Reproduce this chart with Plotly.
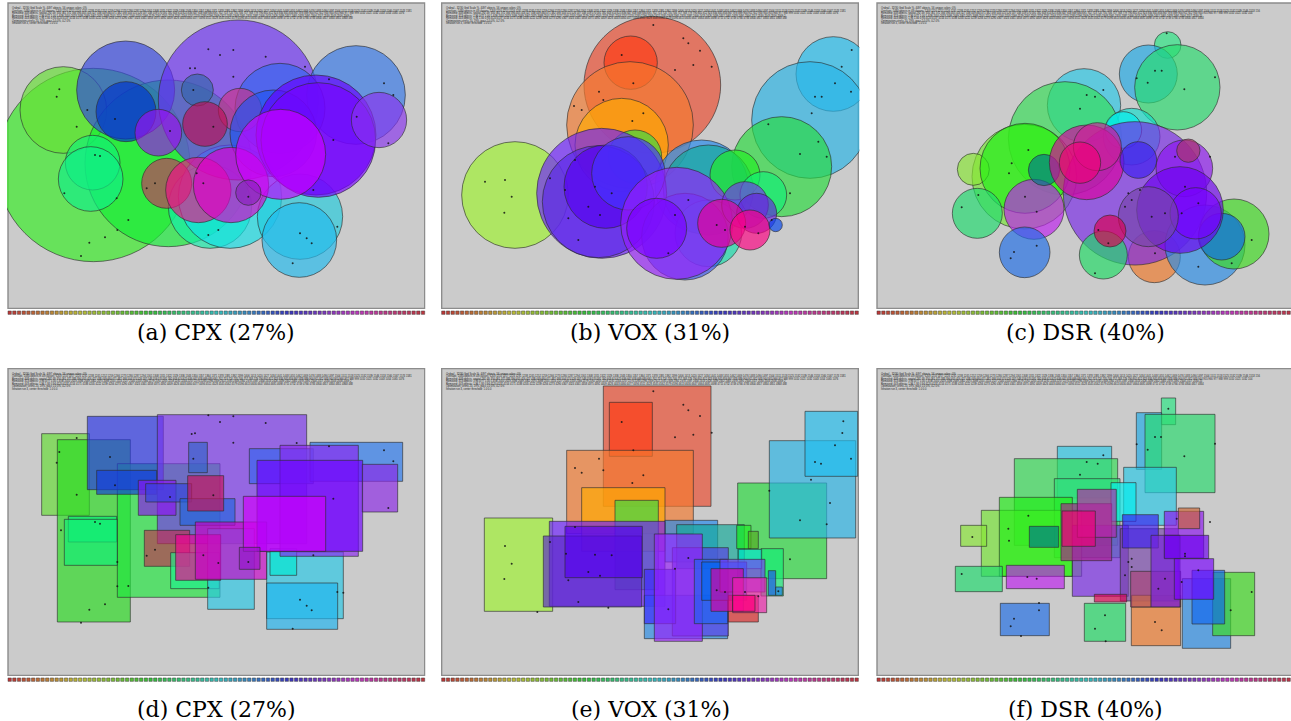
import plotly.graph_objects as go
import colorsys

W, H = 1291, 721

# ---------------- data (reference-image units: 3 units = 1 px) ----------------
captions = ["(a) CPX (27%)", "(b) VOX (31%)", "(c) DSR (40%)",
            "(d) CPX (27%)", "(e) VOX (31%)", "(f) DSR (40%)"]

# circles: (cx, cy, r, color)
cpx_circles = [
    (280, 495, 290, '#33ee22'), (190, 330, 130, '#66e033'), (505, 490, 250, '#11ee33'),
    (630, 620, 125, '#11eeaa'), (690, 590, 155, '#11e0e8'), (377, 270, 147, '#3344e0'),
    (715, 300, 240, '#6a2df5'), (1068, 285, 148, '#3377e8'), (840, 325, 135, '#3366ee'),
    (900, 650, 128, '#22ccdd'), (898, 720, 112, '#22bbee'), (278, 488, 82, '#11f077'),
    (272, 537, 97, '#11ee88'), (378, 335, 90, '#0033cc'), (592, 270, 48, '#3366aa'),
    (720, 330, 65, '#cc3388'), (820, 400, 130, '#2255ee'), (475, 398, 70, '#9911ee'),
    (615, 372, 67, '#bb1155'), (500, 550, 75, '#c83060'), (948, 405, 180, '#6600ff'),
    (955, 420, 172, '#7700ff'), (1137, 360, 83, '#8833ee'), (595, 570, 98, '#ee1188'),
    (693, 555, 113, '#dd00cc'), (842, 463, 135, '#cc00ff'), (745, 578, 38, '#8822bb'),
]
vox_circles = [
    (652, 255, 205, '#ed4a2d'), (587, 188, 80, '#ff3a10'), (585, 375, 190, '#f57a2d'),
    (560, 435, 140, '#ffaa00'), (240, 585, 160, '#a0f52d'), (600, 470, 80, '#33dd44'),
    (1195, 222, 112, '#1ebef0'), (1125, 360, 175, '#28b4e6'), (1040, 500, 150, '#28dc3c'),
    (800, 560, 140, '#2288ee'), (820, 570, 135, '#11aa99'), (900, 525, 75, '#22ee22'),
    (985, 585, 70, '#11ee77'), (820, 700, 100, '#11ddaa'), (500, 580, 195, '#6e1eff'),
    (490, 605, 168, '#5a28e6'), (512, 560, 125, '#5500ee'), (580, 520, 110, '#4433ff'),
    (750, 710, 130, '#3a55ee'), (725, 670, 168, '#961efa'), (665, 685, 90, '#7a00ff'),
    (930, 615, 70, '#7733ee'), (965, 640, 60, '#6622dd'), (860, 670, 72, '#e60096'),
    (945, 690, 60, '#ff0082'), (1022, 675, 20, '#0044ee'),
]
dsr_circles = [
    (908, 135, 40, '#28e682'), (850, 222, 87, '#1eaae6'), (937, 262, 128, '#28dc6e'),
    (657, 316, 110, '#28c8e6'), (600, 415, 170, '#33dd55'), (478, 530, 157, '#77e633'),
    (325, 508, 48, '#88e633'), (480, 505, 135, '#1ef014'), (337, 640, 75, '#1edc6e'),
    (800, 410, 85, '#11ddcc'), (775, 390, 55, '#00eeee'), (868, 770, 78, '#f07828'),
    (810, 580, 215, '#7828e6'), (507, 628, 90, '#be1ef0'), (537, 510, 47, '#007888'),
    (479, 757, 76, '#1e6ee6'), (715, 765, 72, '#1edc64'), (665, 487, 112, '#dc00a0'),
    (697, 440, 72, '#cc2299'), (645, 488, 62, '#ee0077'), (820, 480, 55, '#3c1ef0'),
    (1020, 735, 120, '#288ce6'), (1107, 702, 105, '#3cdc1e'), (1070, 710, 70, '#1166ee'),
    (958, 505, 85, '#8c14f0'), (970, 452, 35, '#aa3366'), (945, 630, 130, '#6e00f0'),
    (992, 640, 77, '#7800ff'), (850, 650, 90, '#7744aa'), (735, 693, 48, '#dc0050'),
]

# rectangles: (x0, y0, x1, y1, color)
cpx_rects = [
    (125, 215, 268, 460, '#66dd33'), (172, 233, 391, 780, '#28dc1e'), (352, 305, 660, 706, '#1ee63c'),
    (262, 163, 490, 383, '#2832e6'), (472, 158, 920, 545, '#7a33ee'), (290, 325, 470, 397, '#143cdc'),
    (205, 463, 350, 540, '#00f078'), (193, 472, 352, 610, '#11ee77'), (566, 241, 622, 332, '#3264c8'),
    (415, 355, 528, 460, '#8c14f0'), (437, 365, 575, 420, '#3344dd'), (540, 410, 705, 490, '#2266dd'),
    (563, 341, 671, 447, '#c8145a'), (433, 505, 569, 613, '#c03050'), (512, 572, 658, 680, '#1ef08c'),
    (623, 500, 763, 742, '#28c8e6'), (800, 570, 1030, 770, '#28c8e6'), (800, 663, 1013, 802, '#1eb4f0'),
    (810, 560, 890, 640, '#00e6d2'), (527, 518, 662, 655, '#f00096'), (586, 480, 800, 652, '#c800c8'),
    (748, 260, 940, 365, '#3366ee'), (930, 241, 1208, 358, '#2878f0'), (840, 250, 1075, 583, '#8c28f0'),
    (771, 295, 1088, 568, '#6e00ff'), (1087, 307, 1193, 450, '#8c28e6'), (730, 403, 977, 568, '#d200fa'),
    (718, 556, 780, 622, '#9614c8'),
]
vox_rects = [
    (505, 72, 828, 433, '#ed4a2d'), (523, 121, 652, 283, '#ff3a10'), (395, 265, 775, 515, '#f57a2d'),
    (440, 377, 690, 568, '#ffaa00'), (540, 415, 670, 683, '#33dd44'), (148, 468, 353, 748, '#a0f52d'),
    (908, 363, 1175, 650, '#28dc3c'), (1003, 236, 1262, 528, '#28b4e6'), (1110, 148, 1268, 343, '#1ebef0'),
    (690, 475, 848, 600, '#2288ee'), (725, 488, 928, 620, '#11aa99'), (905, 490, 948, 560, '#22ee22'),
    (940, 508, 970, 560, '#55aa22'), (978, 560, 1045, 702, '#11ee77'), (910, 562, 980, 620, '#00e6d2'),
    (343, 478, 690, 733, '#6e1eff'), (325, 522, 620, 735, '#5a28c8'), (390, 493, 622, 647, '#5500ee'),
    (628, 700, 878, 830, '#288ce6'), (712, 557, 880, 822, '#5a3ce6'), (628, 622, 722, 785, '#3c28ff'),
    (658, 516, 802, 838, '#961efa'), (778, 592, 878, 785, '#1e64f0'), (800, 600, 935, 715, '#0064f0'),
    (855, 592, 990, 690, '#783cfa'), (880, 700, 970, 780, '#dc2828'), (828, 620, 925, 748, '#dc00a0'),
    (893, 647, 995, 752, '#ee22aa'), (893, 700, 960, 748, '#ff0082'), (1000, 626, 1022, 700, '#1e50f0'),
    (1022, 675, 1042, 700, '#1e78f0'),
]
dsr_rects = [
    (889, 108, 932, 188, '#28e682'), (814, 152, 890, 322, '#1eaae6'), (840, 157, 1050, 392, '#28dc6e'),
    (577, 253, 740, 408, '#28c8e6'), (448, 290, 758, 550, '#33dd55'), (568, 350, 765, 587, '#2ee07a'),
    (776, 316, 934, 490, '#28c8e6'), (349, 445, 650, 643, '#77e633'), (403, 406, 622, 643, '#1ef014'),
    (287, 490, 365, 553, '#88e633'), (271, 613, 412, 689, '#1edc6e'), (424, 610, 598, 680, '#be1ef0'),
    (493, 493, 581, 556, '#007888'), (406, 724, 553, 821, '#1e6ee6'), (658, 724, 782, 838, '#1edc64'),
    (799, 700, 947, 851, '#f07828'), (952, 650, 1097, 859, '#288ce6'), (1043, 631, 1169, 821, '#3cdc1e'),
    (981, 625, 1079, 786, '#1166ee'), (738, 362, 813, 478, '#00eeee'), (622, 490, 790, 703, '#7828e6'),
    (766, 500, 940, 717, '#7744aa'), (588, 425, 740, 596, '#aa1e8c'), (637, 382, 754, 526, '#b428aa'),
    (591, 447, 691, 553, '#ee0077'), (772, 458, 880, 558, '#3c1ef0'), (800, 700, 858, 735, '#ffbb00'),
    (688, 697, 785, 720, '#dc0050'), (797, 628, 947, 735, '#aa4477'), (898, 448, 1016, 588, '#8c14f0'),
    (940, 438, 1004, 500, '#cc6633'), (858, 520, 945, 735, '#7722dd'), (898, 520, 1031, 590, '#6e00f0'),
    (928, 590, 1046, 712, '#7800ff'),
]

# sample points (black dots)
cpx_dots_c = [(625,148),(660,165),(700,150),(797,170),(585,205),(570,205),(700,230),(915,200),(987,238),
              (1152,250),(1180,285),(178,268),(170,290),(262,330),(345,357),(230,380),(285,465),(300,468),
              (193,580),(350,595),(385,660),(352,690),(315,712),(268,728),(243,768),(465,550),(440,565),
              (590,520),(610,550),(655,690),(625,705),(900,700),(920,715),(935,730),(878,790),(1012,680),
              (1070,350),(1165,430),(940,570),(1000,420),(745,590),(580,270),(510,393),(640,380)]
vox_dots_c = [(655,75),(745,115),(760,130),(795,152),(720,210),(775,195),(830,200),(560,165),(595,250),
              (492,275),(505,300),(417,318),(440,330),(592,363),(625,340),(150,545),(210,540),(230,590),
              (208,638),(345,535),(390,570),(420,480),(480,560),(530,580),(460,620),(495,645),(400,655),
              (430,720),(1250,150),(1220,200),(1200,250),(1248,275),(1160,290),(1140,290),(1130,340),
              (1000,373),(1095,462),(1175,470),(1150,425),(1065,580),(845,675),(870,690),(930,680),
              (760,600),(720,645),(700,760),(1010,660),(970,700)]
dsr_dots_c = [(905,100),(870,212),(890,212),(815,235),(848,248),(1050,232),(958,268),(715,270),(690,290),
              (665,285),(645,326),(490,450),(440,490),(432,520),(480,590),(515,635),(290,622),(340,585),
              (447,756),(437,775),(515,737),(825,570),(790,580),(800,600),(780,620),(860,650),(900,640),
              (960,560),(950,640),(1000,610),(1100,790),(1160,720),(730,730),(690,820),(700,690),(870,760),
              (1000,800),(930,470),(1035,470)]
cpx_dots_r = [(625,160),(700,163),(660,180),(797,183),(575,216),(585,214),(700,242),(890,243),(987,253),
              (1152,265),(1180,298),(178,270),(170,302),(230,228),(330,285),(345,370),(230,398),(285,480),
              (300,485),(183,505),(352,600),(385,672),(352,673),(315,727),(268,743),(243,782),(465,563),
              (440,581),(610,580),(655,603),(625,677),(900,713),(920,731),(935,745),(878,800),(1012,690),
              (1165,438),(940,580),(1000,410),(745,600),(580,290),(510,405),(640,400),(1030,692)]
vox_dots_r = [(655,88),(745,128),(760,145),(795,162),(720,226),(775,218),(830,212),(560,180),(595,265),
              (492,290),(505,325),(420,318),(440,332),(592,363),(625,340),(210,552),(230,605),(208,651),
              (345,540),(393,575),(420,495),(480,578),(530,580),(460,630),(495,641),(400,655),(430,720),
              (1225,178),(1222,213),(1200,250),(1248,290),(1158,305),(1140,300),(1128,353),(1003,386),
              (1095,475),(1175,487),(1185,423),(1065,592),(845,685),(870,690),(930,690),(760,588),
              (720,620),(700,742),(1030,688),(970,703),(520,737),(307,750)]
dsr_dots_r = [(910,140),(870,225),(888,225),(815,247),(848,263),(1050,245),(958,283),(715,280),(698,305),
              (665,300),(645,338),(490,461),(430,500),(432,536),(487,645),(515,650),(290,636),(322,525),
              (447,770),(437,793),(522,745),(800,590),(790,600),(800,615),(780,640),(880,680),(900,650),
              (960,575),(950,660),(1000,625),(1097,745),(1160,690),(720,760),(690,800),(722,838),(870,780),
              (890,805),(960,583),(935,470),(1035,480),(468,822),(522,723)]

header_lines = [
    "Ordinal - 32/30 Grid Scale %, 4097 objects, 56 unique colors: 0%",
    "Overlaps: 1480 objects in 48 classes: " + " ".join(str(v) for v in range(1203, 1203 + 7 * 90, 7)),
    "Removed: 408 objects, spatial 292 48: " + " ".join(str(v) for v in range(350, 350 + 11 * 80, 11)),
    "Removed: 313 objects: 1,96 0/77 1,00 1,4/36 " + " ".join(str(v) for v in range(2010, 2010 + 13 * 60, 13)),
    "Removed: 443 objects: 1,96 1,84 0,94 " + " ".join(str(v) for v in range(4120, 4120 + 17 * 60, 17)),
    "Optimization: stress 20, 19%, pass 1.0 0%, 0.2 0%",
    "Iteration run 3, center threshold: 1.0 0.0",
]
header_limits = [200, 312, 312, 265, 265, 200, 200]

# ---------------- layout geometry ----------------
panel_origin = [(0, 0), (435, 0), (865, 0), (0, 362), (435, 362), (865, 362)]
panel_frame = [(24, 1274, 9, 925), (20, 1270, 9, 925), (36, 1292, 9, 925),
               (24, 1274, 20, 940), (20, 1270, 20, 940), (36, 1292, 20, 940)]
caption_y_px = [332, 332, 332, 709, 709, 709]

panel_circles = [cpx_circles, vox_circles, dsr_circles, None, None, None]
panel_rects = [None, None, None, cpx_rects, vox_rects, dsr_rects]
panel_dots = [cpx_dots_c, vox_dots_c, dsr_dots_c, cpx_dots_r, vox_dots_r, dsr_dots_r]

ALPHA = 0.66
EDGE = 'rgba(45,45,45,0.7)'


def rgba(hexc, a):
    h = hexc.lstrip('#')
    r, g, b = int(h[0:2], 16), int(h[2:4], 16), int(h[4:6], 16)
    return f'rgba({r},{g},{b},{a})'


fig = go.Figure()
shapes = []
annotations = []
layout_axes = {}

n_strip = 89
strip_cols = []
for i in range(n_strip):
    r, g, b = colorsys.hls_to_rgb(i / n_strip, 0.48, 0.55)
    strip_cols.append(f'rgb({int(r*255)},{int(g*255)},{int(b*255)})')

for k in range(6):
    ox, oy = panel_origin[k]
    fx0, fx1, fy0, fy1 = panel_frame[k]
    xr0 = fx0 - 3
    xr1 = min(fx1 + 3, (W - ox) * 3)
    yr0 = fy0 - 3
    yr1 = fy1 + 24
    dx0 = (ox + xr0 / 3) / W
    dx1 = (ox + xr1 / 3) / W
    dy_top = 1 - (oy + yr0 / 3) / H
    dy_bot = 1 - (oy + yr1 / 3) / H
    sfx = '' if k == 0 else str(k + 1)
    xa, ya = 'x' + sfx, 'y' + sfx
    layout_axes['xaxis' + sfx] = dict(domain=[max(dx0, 0), min(dx1, 1)], range=[xr0, xr1],
                                      visible=False, fixedrange=True, anchor=ya)
    layout_axes['yaxis' + sfx] = dict(domain=[dy_bot, dy_top], range=[yr1, yr0],
                                      visible=False, fixedrange=True, anchor=xa)

    # gray panel with border
    shapes.append(dict(type='rect', xref=xa, yref=ya, x0=fx0, x1=fx1, y0=fy0, y1=fy1,
                       fillcolor='#cbcbcb', line=dict(color='#8c8c8c', width=1.4), layer='below'))

    if panel_circles[k]:
        for (cx, cy, r, col) in panel_circles[k]:
            shapes.append(dict(type='circle', xref=xa, yref=ya, x0=cx - r, x1=cx + r,
                               y0=cy - r, y1=cy + r, fillcolor=rgba(col, ALPHA),
                               line=dict(color=EDGE, width=0.9), layer='below'))
    if panel_rects[k]:
        for (x0, y0, x1, y1, col) in panel_rects[k]:
            shapes.append(dict(type='rect', xref=xa, yref=ya, x0=x0, x1=x1, y0=y0, y1=y1,
                               fillcolor=rgba(col, ALPHA),
                               line=dict(color=EDGE, width=0.9), layer='below'))

    # dots
    dots = panel_dots[k]
    fig.add_trace(go.Scatter(x=[d[0] for d in dots], y=[d[1] for d in dots], mode='markers',
                             xaxis=xa, yaxis=ya, hoverinfo='skip', showlegend=False,
                             marker=dict(size=2, color='rgba(20,20,20,0.85)', line=dict(width=0))))

    # color strip
    sx0 = fx0 + 5
    sx1 = min(fx1, 1274 if k % 3 != 2 else 1290) - 5
    step = (sx1 - sx0) / (n_strip - 1)
    fig.add_trace(go.Scatter(x=[sx0 + i * step for i in range(n_strip)], y=[fy1 + 13] * n_strip,
                             mode='markers', xaxis=xa, yaxis=ya, hoverinfo='skip', showlegend=False,
                             cliponaxis=False,
                             marker=dict(symbol='square', size=3.4, color=strip_cols,
                                         line=dict(color='rgba(60,60,60,0.8)', width=0.6))))

    # tiny header text
    lim_scale = 0.95 if k % 3 == 2 else 1.0
    for i, line in enumerate(header_lines):
        annotations.append(dict(xref=xa, yref=ya, x=fx0 + 6, y=fy0 + 3 + i * 7.6,
                                text=line[:int(header_limits[i] * lim_scale)], showarrow=False,
                                xanchor='left', yanchor='top',
                                font=dict(size=2.6, color='#222222', family='Liberation Sans')))

    # caption
    if k % 3 == 2:
        cx_px = ox + (fx0 + 1287) / 6
    else:
        cx_px = ox + (fx0 + fx1) / 6
    annotations.append(dict(xref='paper', yref='paper', x=cx_px / W, y=1 - caption_y_px[k] / H,
                            text=captions[k], showarrow=False, xanchor='center', yanchor='middle',
                            font=dict(size=22, color='black', family='DejaVu Serif')))

fig.update_layout(width=W, height=H, margin=dict(l=0, r=0, t=0, b=0),
                  paper_bgcolor='white', plot_bgcolor='rgba(0,0,0,0)',
                  shapes=shapes, annotations=annotations, showlegend=False, **layout_axes)

fig.write_html("out.html", config={'displayModeBar': False},
               post_script="document.body.style.margin='0px';document.body.style.overflow='hidden';")
